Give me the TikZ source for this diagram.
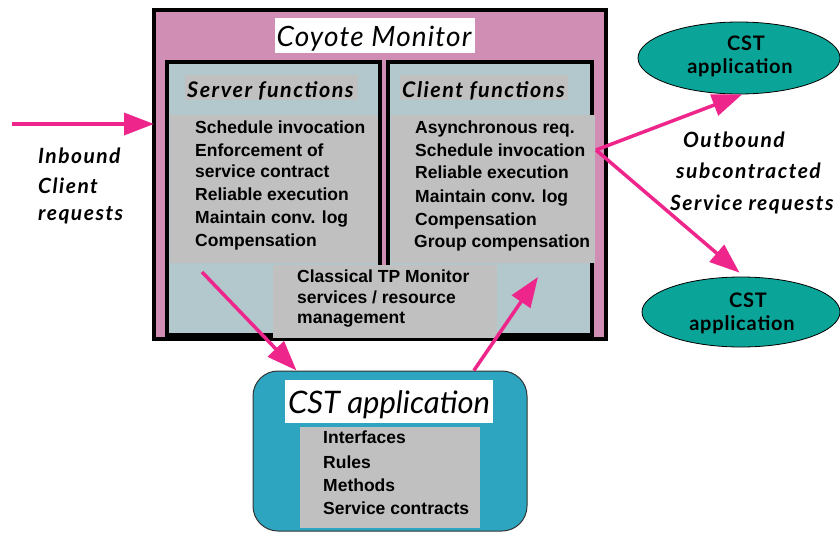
\documentclass[tikz,border=0pt]{standalone}
\usepackage{fontspec}
\setmainfont{Liberation Sans}
\newfontfamily\gill{Lato}
\newfontfamily\gillw{Lato}[LetterSpace=7]
\newfontfamily\gillt{Lato}[LetterSpace=4]
\usetikzlibrary{arrows.meta,shapes.geometric,calc}
\definecolor{pinkbg}{RGB}{208,142,180}
\definecolor{bluegray}{RGB}{178,200,204}
\definecolor{panelgray}{RGB}{192,192,192}
\definecolor{tealbox}{RGB}{45,165,192}
\definecolor{tealell}{RGB}{10,165,152}
\definecolor{arrowpink}{RGB}{238,38,140}
\begin{document}
\begin{tikzpicture}[x=1pt,y=-1pt,
  frame/.style={draw=black,line width=4pt,inner sep=0,outer sep=0},
  panel/.style={fill=panelgray,inner sep=0,outer sep=0},
  item/.style={anchor=base west,inner sep=0,font=\fontsize{17.5}{20}\selectfont\bfseries},
  head/.style={anchor=base west,inner sep=0,font=\gillw\fontsize{21.5}{24}\selectfont\bfseries\itshape},
  lbl/.style={anchor=base west,inner sep=0,font=\gillw\fontsize{21}{24}\selectfont\bfseries\itshape},
  ell/.style={ellipse,draw=black,line width=0.8pt,fill=tealell,inner sep=0},
  elltxt/.style={anchor=base,inner sep=0,font=\gillt\fontsize{20}{22}\selectfont\bfseries},
  parrow/.style={draw=arrowpink,line width=3.5pt,-{Triangle[length=30pt,width=22pt]}}]
\useasboundingbox (0,0) rectangle (840,533);
% outer monitor box
\node[frame,fill=pinkbg,minimum width=452pt,minimum height=329pt] (outer) at (380,174.5) {};
\node[fill=white,inner sep=0,minimum width=200pt,minimum height=35pt] (title) at (375,35.5) {};
\node[anchor=base,inner sep=0,font=\gillt\fontsize{28}{30}\selectfont\itshape] (titletxt) at (374,46) {Coyote Monitor};
% inner boxes
\node[frame,fill=bluegray,minimum width=213pt,minimum height=273pt] (server) at (273.5,198.5) {};
\node[frame,fill=bluegray,minimum width=204pt,minimum height=273pt] (client) at (490,198.5) {};
\node[panel,minimum width=173pt,minimum height=25pt] (shead) at (271.5,87.5) {};
\node[panel,minimum width=168pt,minimum height=25pt] (chead) at (484,87.5) {};
\node[head] (sheadtxt) at (187,97) {Server functions};
\node[head] (cheadtxt) at (402,97) {Client functions};
\node[panel,minimum width=208pt,minimum height=148pt] (spanel) at (274,189) {};
\node[panel,minimum width=204pt,minimum height=148pt] (cpanel) at (493,189) {};
\node[panel,minimum width=224pt,minimum height=73pt] (tp) at (385,301.5) {};
% server items
\node[item] (s1) at (195,133) {Schedule invocation};
\node[item] (s2) at (195,156) {Enforcement of};
\node[item] (s3) at (195,177) {service contract};
\node[item] (s4) at (195,200) {Reliable execution};
\node[item] (s5) at (195,223) {Maintain conv. log};
\node[item] (s6) at (195,246) {Compensation};
% client items
\node[item] (c1) at (415,133) {Asynchronous req.};
\node[item] (c2) at (415,156) {Schedule invocation};
\node[item] (c3) at (415,178) {Reliable execution};
\node[item] (c4) at (415,202) {Maintain conv. log};
\node[item] (c5) at (415,225) {Compensation};
\node[item] (c6) at (414,247) {Group compensation};
% classical TP
\node[item] (t1) at (297,282) {Classical TP Monitor};
\node[item] (t2) at (297,303) {services / resource};
\node[item] (t3) at (297,323) {management};
% CST application box
\node[draw=black!80,line width=1pt,fill=tealbox,rounded corners=25pt,inner sep=0,minimum width=274pt,minimum height=160pt] (cst) at (390,451) {};
\node[fill=white,inner sep=0,minimum width=208pt,minimum height=43pt] (csttitle) at (389,401.5) {};
\node[anchor=base,inner sep=0,font=\gill\fontsize{31}{34}\selectfont\itshape] (csttxt) at (389,413) {CST application};
\node[panel,minimum width=180pt,minimum height=101pt] (cstpanel) at (390,477.5) {};
\node[item] (a1) at (323,443) {Interfaces};
\node[item] (a2) at (323,468) {Rules};
\node[item] (a3) at (323,491) {Methods};
\node[item] (a4) at (323,514) {Service contracts};
% ellipses
\node[ell,minimum width=202pt,minimum height=72pt] (e1) at (739,58) {};
\node[elltxt] (e1a) at (746,50) {CST};
\node[elltxt] (e1b) at (740,73) {application};
\node[ell,minimum width=198pt,minimum height=70pt] (e2) at (741,312) {};
\node[elltxt] (e2a) at (748,307) {CST};
\node[elltxt] (e2b) at (742,330) {application};
% labels
\node[lbl] (in1) at (38,163) {Inbound};
\node[lbl] (in2) at (38,193) {Client};
\node[lbl] (in3) at (38,220) {requests};
\node[lbl] (o1) at (683,147) {Outbound};
\node[lbl] (o2) at (676,178) {subcontracted};
\node[lbl] (o3) at (670,210) {Service requests};
% arrows
\coordinate (inS) at (12,124);
\coordinate (cs) at (596,150);
\coordinate (sd) at (202,272);
\coordinate (cu) at (538,277);
\draw[parrow] (inS) -- (inS -| outer.west);
\draw[parrow] (cs) -- (e1.-85);
\draw[parrow,shorten >=6pt] (cs) -- (e2.85);
\draw[parrow] (sd) -- ($(cst.north west)!0.16!(cst.north east)$);
\draw[parrow] ($(cst.north west)!0.805!(cst.north east)$) -- (cu);
\end{tikzpicture}
\end{document}
